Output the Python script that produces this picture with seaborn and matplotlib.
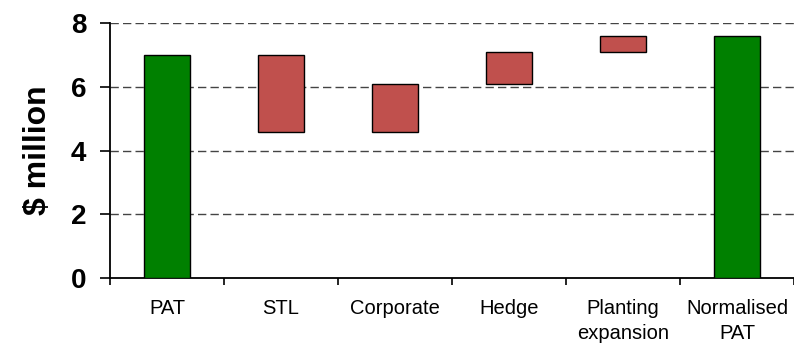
import matplotlib
matplotlib.use("Agg")
import matplotlib.pyplot as plt
import seaborn as sns
import numpy as np

categories = ["PAT", "STL", "Corporate", "Hedge", "Planting\nexpansion", "Normalised\nPAT"]
total_cats = ["PAT", "Normalised\nPAT"]
total_values = [7.0, 7.6]
change_cats = ["STL", "Corporate", "Hedge", "Planting\nexpansion"]
change_low = [4.6, 4.6, 6.1, 7.1]
change_high = [7.0, 6.1, 7.1, 7.6]
yticks = [0, 2, 4, 6, 8]

GREEN = "#008000"
RED = "#C0504D"

sns.set_style("white")
plt.rcParams["font.family"] = ["Liberation Sans", "DejaVu Sans"]
plt.rcParams["text.color"] = "black"
plt.rcParams["axes.labelcolor"] = "black"
plt.rcParams["xtick.color"] = "black"
plt.rcParams["ytick.color"] = "black"

fig = plt.figure(figsize=(7.94, 3.44), dpi=100)
ax = fig.add_axes([110 / 794, 1 - 278.3 / 344, 1 - 110 / 794, (278.3 - 23) / 344])

sns.barplot(x=total_cats, y=total_values, order=categories, color=GREEN,
            saturation=1, width=0.4, edgecolor="black", linewidth=1, ax=ax, zorder=3)
heights = [h - l for h, l in zip(change_high, change_low)]
sns.barplot(x=change_cats, y=heights, bottom=change_low, order=categories, color=RED,
            saturation=1, width=0.4, edgecolor="black", linewidth=1, ax=ax, zorder=3)

ax.set_xlim(-0.5, 5.5)
ax.set_ylim(0, 8)
ax.set_yticks(yticks)
ax.set_yticklabels([str(t) for t in yticks], fontsize=20, fontweight="bold", color="black")
ax.set_xticks(range(len(categories)))
ax.set_xticklabels(categories, fontsize=14.5, color="black", linespacing=1.4)
ax.set_xticks(np.arange(-0.5, 6.0, 1.0), minor=True)
ax.tick_params(axis="x", which="major", length=0, pad=15)
ax.tick_params(axis="x", which="minor", length=5, width=1.2, color="black", direction="out", bottom=True)
ax.tick_params(axis="y", which="major", length=7, width=1.2, color="black", direction="out", left=True, pad=10)

ax.set_ylabel("$ million", fontsize=23, fontweight="bold", labelpad=13, color="black")
ax.set_xlabel("")

for y in yticks[1:]:
    ax.axhline(y, color="#444444", lw=1, ls=(0, (6, 3)), zorder=1)

for s in ["top", "right"]:
    ax.spines[s].set_visible(False)
for s in ["left", "bottom"]:
    ax.spines[s].set_color("black")
    ax.spines[s].set_linewidth(1.3)
ax.set_axisbelow(True)

fig.savefig("out.png", dpi=100)
